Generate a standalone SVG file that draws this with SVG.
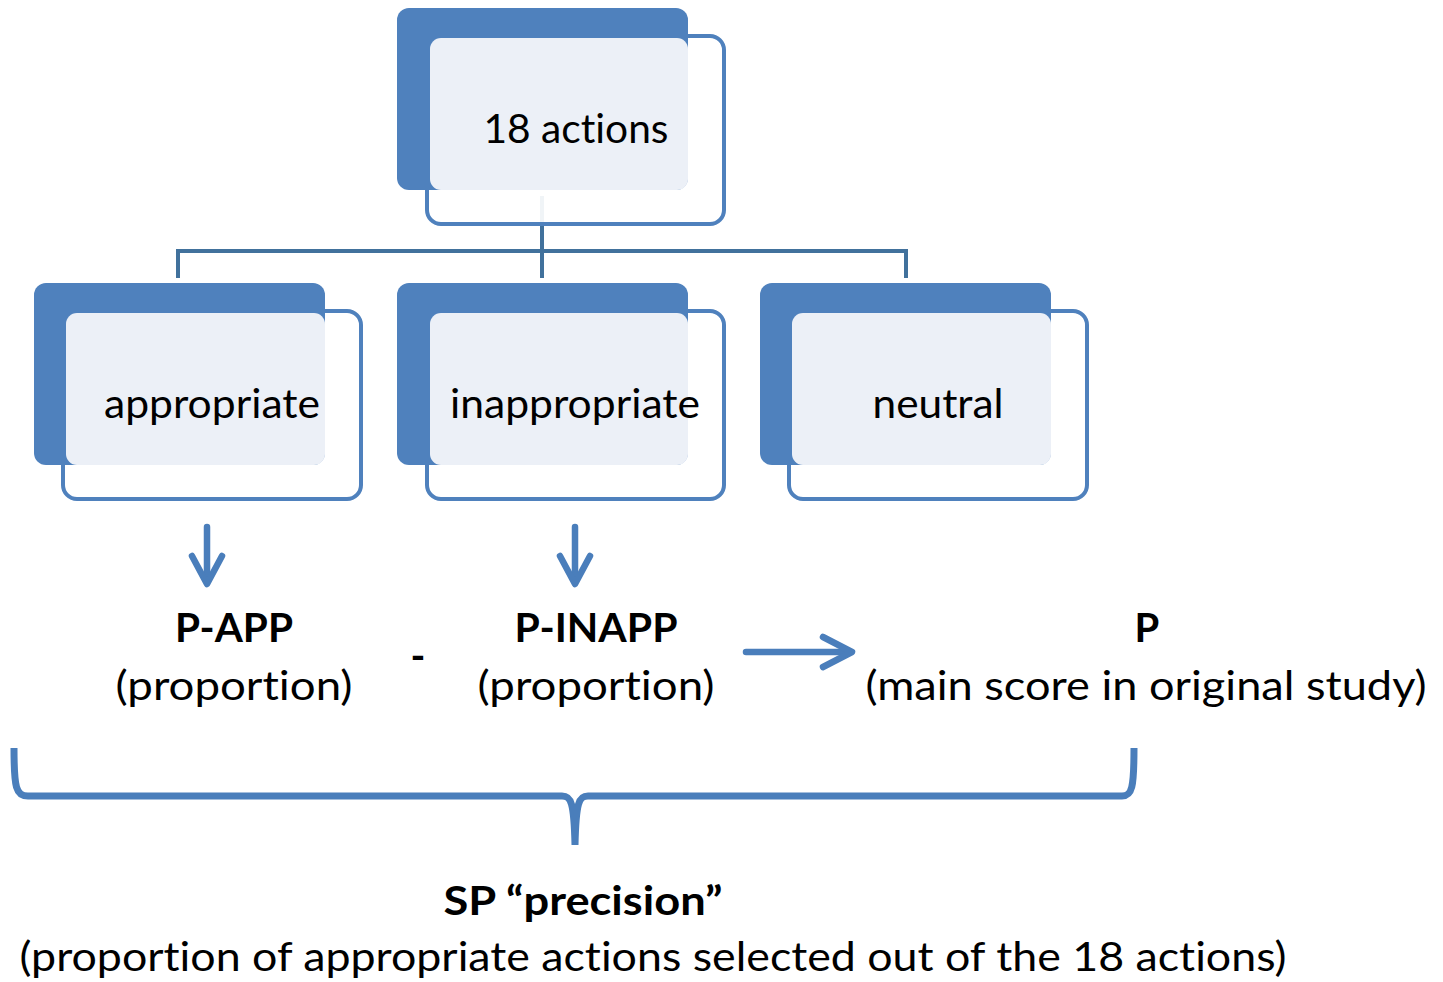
<svg xmlns="http://www.w3.org/2000/svg" width="1443" height="982" viewBox="0 0 1443 982">
  <style>
    .back { fill: #4F81BD; }
    .front { fill: #FFFFFF; fill-opacity: 0.92; stroke: #4F81BD; stroke-width: 4; }
    .tint { fill: #ECF0F7; }
    .link { stroke: #41719C; stroke-width: 4; fill: none; }
    .flow { stroke: #4A7EBB; stroke-width: 6.5; fill: none; stroke-linecap: round; stroke-linejoin: round; }
    .brace { stroke: #4A7EBB; stroke-width: 7; fill: none; }
    text { font-family: Lato, "Open Sans", "Liberation Sans", sans-serif; fill: #000; text-anchor: middle; font-variant-ligatures: none; font-feature-settings: "liga" 0, "clig" 0; }
    .lbl { font-size: 40px; }
    .bold { font-size: 40px; font-weight: bold; }
  </style>

  <!-- connectors -->
  <g id="connectors">
    <line class="link" x1="542" y1="196" x2="542" y2="278" />
    <polyline class="link" points="178,278 178,251 906,251 906,278" />
  </g>

  <!-- node: 18 actions -->
  <g id="node-actions">
    <rect class="front" x="427" y="36" width="297" height="188" rx="14" />
    <rect class="back" x="397" y="8" width="291" height="182" rx="12" />
    <rect class="tint" x="430" y="38" width="258" height="152" rx="11" />
    <text class="lbl" x="576" y="143" textLength="185" lengthAdjust="spacingAndGlyphs">18 actions</text>
  </g>

  <!-- node: appropriate -->
  <g id="node-appropriate">
    <rect class="front" x="63" y="311" width="298" height="188" rx="14" />
    <rect class="back" x="34" y="283" width="291" height="182" rx="12" />
    <rect class="tint" x="66" y="313" width="259" height="152" rx="11" />
    <text class="lbl" x="212" y="418" textLength="216" lengthAdjust="spacingAndGlyphs">appropriate</text>
  </g>

  <!-- node: inappropriate -->
  <g id="node-inappropriate">
    <rect class="front" x="427" y="311" width="297" height="188" rx="14" />
    <rect class="back" x="397" y="283" width="291" height="182" rx="12" />
    <rect class="tint" x="430" y="313" width="258" height="152" rx="11" />
    <text class="lbl" x="575" y="418" textLength="250" lengthAdjust="spacingAndGlyphs">inappropriate</text>
  </g>

  <!-- node: neutral -->
  <g id="node-neutral">
    <rect class="front" x="789" y="311" width="298" height="188" rx="14" />
    <rect class="back" x="760" y="283" width="291" height="182" rx="12" />
    <rect class="tint" x="792" y="313" width="259" height="152" rx="11" />
    <text class="lbl" x="938" y="418" textLength="131" lengthAdjust="spacingAndGlyphs">neutral</text>
  </g>

  <!-- score arrows -->
  <g id="arrows">
    <line class="flow" x1="207" y1="527" x2="207" y2="580" />
    <polyline class="flow" points="192,556 207,584 222,556" />
    <line class="flow" x1="575" y1="527" x2="575" y2="580" />
    <polyline class="flow" points="560,556 575,584 590,556" />
    <line class="flow" x1="746" y1="652" x2="848" y2="652" />
    <polyline class="flow" points="823,637 852,652 823,667" />
  </g>

  <!-- scores -->
  <g id="score-papp">
    <text class="bold" x="234" y="642" textLength="118" lengthAdjust="spacingAndGlyphs">P-APP</text>
    <text class="lbl" x="234" y="700" textLength="237" lengthAdjust="spacingAndGlyphs">(proportion)</text>
  </g>
  <g id="minus">
    <text class="bold" x="418" y="670">-</text>
  </g>
  <g id="score-pinapp">
    <text class="bold" x="596" y="642" textLength="163" lengthAdjust="spacingAndGlyphs">P-INAPP</text>
    <text class="lbl" x="596" y="700" textLength="237" lengthAdjust="spacingAndGlyphs">(proportion)</text>
  </g>
  <g id="score-p">
    <text class="bold" x="1147" y="642">P</text>
    <text class="lbl" x="1146" y="700" textLength="561" lengthAdjust="spacingAndGlyphs">(main score in original study)</text>
  </g>

  <!-- brace -->
  <g id="brace">
    <path class="brace" d="M14,748 C14,788 16,796 28,796 L562,796 C571,796 574,802 575,845 C576,802 579,796 588,796 L1122,796 C1132,796 1134,788 1134,748" />
  </g>

  <!-- summary -->
  <g id="summary">
    <text class="bold" x="583" y="915" textLength="279" lengthAdjust="spacingAndGlyphs">SP “precision”</text>
    <text class="lbl" x="653" y="971" textLength="1267" lengthAdjust="spacingAndGlyphs">(proportion of appropriate actions selected out of the 18 actions)</text>
  </g>
</svg>
